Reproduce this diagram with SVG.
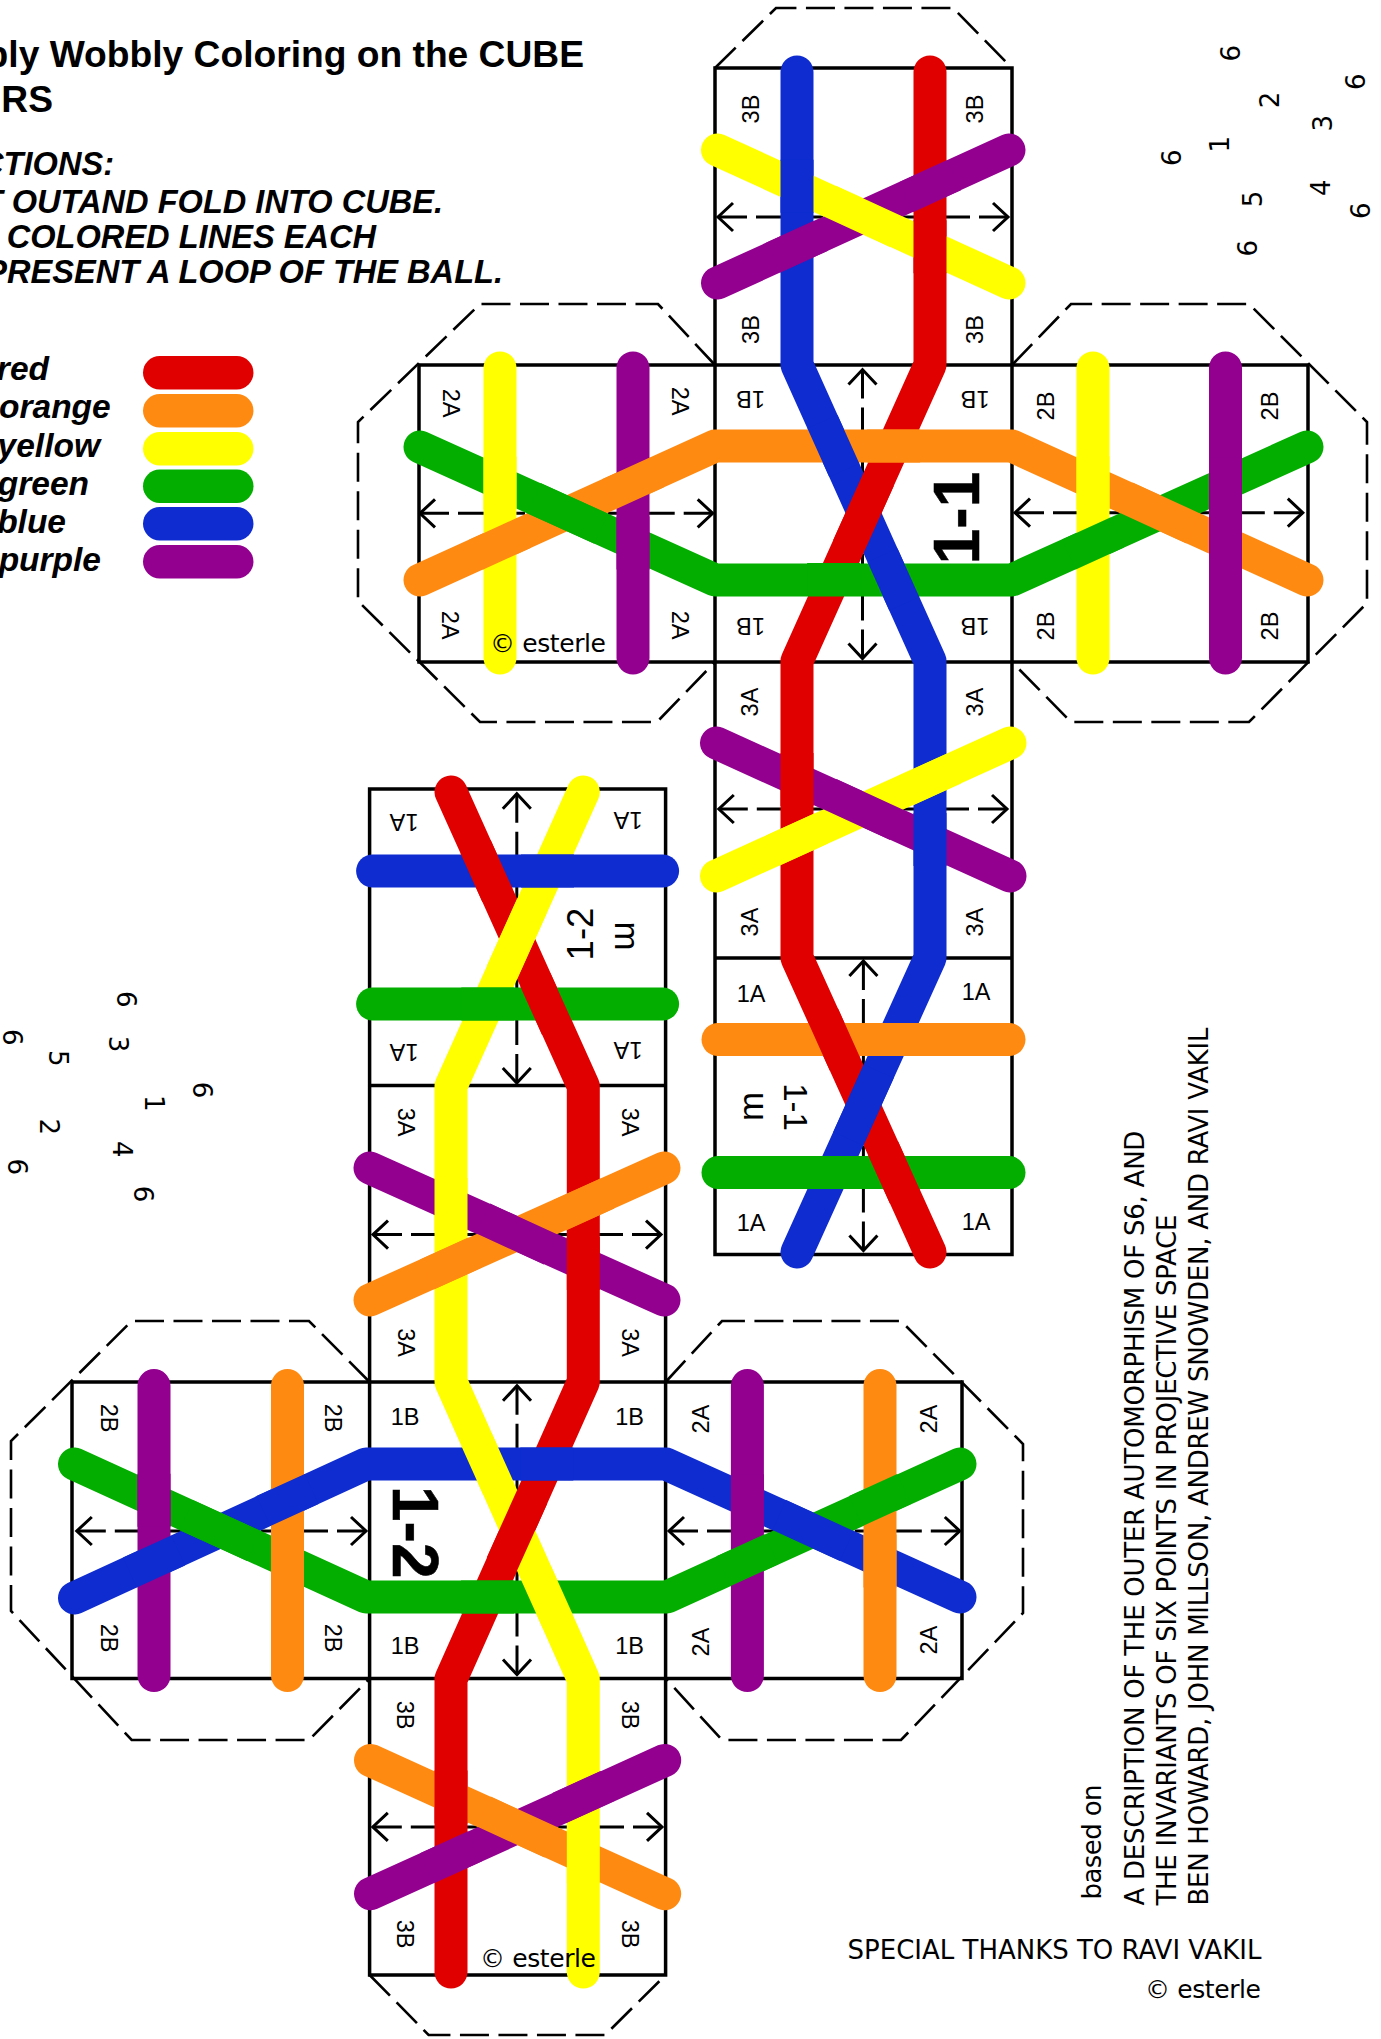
<svg xmlns="http://www.w3.org/2000/svg" width="1381" height="2039" viewBox="0 0 1381 2039">
<defs>
<marker id="head" markerUnits="userSpaceOnUse" markerWidth="40" markerHeight="40" refX="0" refY="0" viewBox="-20 -20 40 40" orient="auto-start-reverse" overflow="visible"><path d="M-15 -14L0 0L-15 14" fill="none" stroke="#000" stroke-width="3"/></marker>
</defs>
<style>
text{fill:#000}
.sq{fill:none;stroke:#000;stroke-width:3.5}
.dash{fill:none;stroke:#000;stroke-width:2.6;stroke-dasharray:29 9.5}
.ar{fill:none;stroke:#000;stroke-width:3;stroke-dasharray:29 9;marker-start:url(#head)}
.s{fill:none;stroke-width:33;stroke-linecap:round;stroke-linejoin:round}
.o{fill:none;stroke-width:33;stroke-linecap:butt}
.red{stroke:#E00000}.orange{stroke:#FF8A12}.yellow{stroke:#FFFF00}.green{stroke:#03AE00}.blue{stroke:#0E2CCF}.purple{stroke:#930090}
.lb{font:23.5px "Liberation Sans",Arial,sans-serif;text-anchor:middle;dominant-baseline:central}
.big{font:bold 64px "Liberation Sans",Arial,sans-serif;stroke:#000;stroke-width:.6}
.mid{font:35px "Liberation Sans",Arial,sans-serif;text-anchor:middle}
.title{font:bold 37.2px "Liberation Sans",Arial,sans-serif;text-anchor:end}
.ins{font:italic bold 32.6px "Liberation Sans",Arial,sans-serif;text-anchor:end}
.leg{font:italic bold 33.5px "Liberation Sans",Arial,sans-serif;text-anchor:end}
.dj{font:25px "DejaVu Sans",sans-serif}
.dg{font:26px "DejaVu Sans",sans-serif;text-anchor:middle}
</style>

<g id="heading">
<text class="title" x="584" y="66.5">bly Wobbly Coloring on the CUBE</text>
<text class="title" x="53" y="111.5">RS</text>
<text class="ins" x="114" y="175">CTIONS:</text>
<text class="ins" x="443" y="212.7">T OUTAND FOLD INTO CUBE.</text>
<text class="ins" x="376" y="248.3">COLORED LINES EACH</text>
<text class="ins" x="503" y="282.7">PRESENT A LOOP OF THE BALL.</text>
</g>

<g id="legend">
<text class="leg" x="49" y="379.6">red</text><rect x="143" y="356" width="110.5" height="33.4" rx="16.7" fill="#E00000"/>
<text class="leg" x="110.7" y="418">orange</text><rect x="143" y="394" width="110.5" height="33.4" rx="16.7" fill="#FF8A12"/>
<text class="leg" x="100" y="456.7">yellow</text><rect x="143" y="432" width="110.5" height="33.4" rx="16.7" fill="#FFFF00"/>
<text class="leg" x="89" y="495">green</text><rect x="143" y="469.5" width="110.5" height="33.4" rx="16.7" fill="#03AE00"/>
<text class="leg" x="66" y="533">blue</text><rect x="143" y="507" width="110.5" height="33.4" rx="16.7" fill="#0E2CCF"/>
<text class="leg" x="101" y="570.6">purple</text><rect x="143" y="545" width="110.5" height="33.4" rx="16.7" fill="#930090"/>
</g>

<g id="net-1">
<path class="dash" d="M715 68L776 8H953L1012 68"/>
<path class="dash" d="M1012 365L1071 304H1249L1367 422V603L1249 722H1071L1012 662"/>
<path class="dash" d="M715 365L658 304H480L358 422V601L480 722H657L715 662"/>
<path class="sq" d="M715 68H1012V1254.5H715ZM419 365H1308V662H419ZM715 365V662M1012 365V662M715 958H1012"/>
<path class="ar" d="M718 217H863"/><path class="ar" d="M1008 217H863"/>
<path class="ar" d="M862.5 369.6V514"/><path class="ar" d="M862.5 658.5V514"/>
<path class="ar" d="M420 513.3H566"/><path class="ar" d="M712.7 513.3H566"/>
<path class="ar" d="M1015 512.7H1159"/><path class="ar" d="M1302.8 512.7H1159"/>
<path class="ar" d="M718.8 809H863"/><path class="ar" d="M1007 809H863"/>
<path class="ar" d="M863.4 961V1106"/><path class="ar" d="M863.4 1250.6V1106"/>
<text class="big" text-anchor="middle" transform="translate(979 518) rotate(-90)">1-1</text>
<text class="mid" transform="translate(784 1107) rotate(90)" style="font-size:33px">1-1</text>
<text class="mid" transform="translate(763 1106.5) rotate(-90)">m</text>
</g>

<g id="net-2">
<path class="dash" d="M369.6 1382L309 1321H131.7L11 1441V1611L131.7 1740H309L369.6 1678.5"/>
<path class="dash" d="M665.6 1382L722 1321H901L1023 1444V1613L901 1740H722L665.6 1678.5"/>
<path class="dash" d="M369.6 1975L428.6 2035H605L665.6 1975"/>
<path class="sq" d="M369.6 789H665.6V1975H369.6ZM72 1382H962V1678.5H72ZM369.6 1382V1678.5M665.6 1382V1678.5M369.6 1085.5H665.6"/>
<path class="ar" d="M516.8 793.8V938"/><path class="ar" d="M516.8 1083V938"/>
<path class="ar" d="M373 1234.6H517"/><path class="ar" d="M661 1234.6H517"/>
<path class="ar" d="M517 1385.8V1530"/><path class="ar" d="M517 1674.6V1530"/>
<path class="ar" d="M76.8 1531H221"/><path class="ar" d="M366 1531H221"/>
<path class="ar" d="M669 1531H814"/><path class="ar" d="M959.8 1531H814"/>
<path class="ar" d="M372.8 1826.9H517"/><path class="ar" d="M662 1826.9H517"/>
<text class="big" transform="translate(393 1486) rotate(90)">1-2</text>
<text class="mid" transform="translate(593 934) rotate(-90)" style="font-size:36.5px">1-2</text>
<text class="mid" transform="translate(615 936) rotate(90)">m</text>
</g>

<g id="strands">
<path class="s red" d="M930 72V365L797 661V958L930 1252"/>
<path class="s blue" d="M797 72V365L930 661V958L797 1252"/>
<path class="s yellow" d="M717.5 150L1009 283"/>
<path class="s purple" d="M1009 150L717.5 283"/>
<path class="s orange" d="M420 580L715 446H1012L1307 580"/>
<path class="s green" d="M420 447L715 580H1012L1307 447"/>
<path class="s yellow" d="M500 368V658M1093 368V658"/>
<path class="s purple" d="M633 368V658M1225.5 368V658"/>
<path class="s purple" d="M716.5 743L1010 876"/>
<path class="s yellow" d="M1010 743L716.5 876"/>
<path class="s orange" d="M718 1039.5H1009"/>
<path class="s green" d="M718 1172.6H1009"/>

<path class="s red" d="M451 792L583.3 1086V1382L451 1679V1972"/>
<path class="s yellow" d="M583.3 792L451 1086V1382L583.3 1679V1972"/>
<path class="s blue" d="M372.6 871H662.6"/>
<path class="s green" d="M372.6 1004H662.6"/>
<path class="s purple" d="M370 1168L664 1300"/>
<path class="s orange" d="M664 1168L370 1300"/>
<path class="s blue" d="M74.5 1598L366 1464H666L960 1597"/>
<path class="s green" d="M74.5 1464L366 1597H667L960 1464"/>
<path class="s purple" d="M154 1385.6V1675.5M747.4 1385.6V1675.5"/>
<path class="s orange" d="M287.5 1385.6V1675.5M880 1385.6V1675.5"/>
<path class="s orange" d="M370.5 1760.4L664.7 1893.8"/>
<path class="s purple" d="M664.7 1760.4L370.5 1893.8"/>

<path class="o red" d="M930 220.2L930 273.2M878.7 479.3L848.3 546.7M797 753L797 806M823 1015.3L844.8 1063.7M883.1 1148.4L904.9 1196.8M475.6 846.8L497.4 895.2M535.3 979.8L557.1 1028.2M583.3 1237.1L583.3 1290.1M532.2 1496.8L501.8 1564.2M451 1770.4L451 1823.4"/>
<path class="o blue" d="M797 159.8L797 212.8M822.5 421.8L844.3 470.2M882.5 555.3L904.3 603.7M930 813L930 866M878.7 1071.3L848.3 1138.7M521 871L574 871M520.3 1464L573.3 1464M129.9 1572.5L178.1 1550.5M263.4 1511.1L311.6 1489.1M779.3 1515.1L846.7 1545.9"/>
<path class="o yellow" d="M829.6 201.1L896.9 231.9M500 456.5L500 509.5M1093 456.3L1093 509.3M772.9 850.5L821.1 828.5M905.9 790.5L954.1 768.5M532.2 905.3L501.8 972.7M451 1177.9L451 1230.9M476.6 1439.8L498.4 1488.2M535.9 1572.8L557.7 1621.2M583.3 1830.4L583.3 1883.4"/>
<path class="o purple" d="M772.9 257.7L821.1 235.7M905.9 197.3L954.1 175.3M633 516.5L633 569.5M1225.5 457.2L1225.5 510.2M1225.5 516.5L1225.5 569.5M829.6 794.1L896.9 824.9M483.3 1218.6L550.7 1249.4M154 1473.8L154 1526.8M747.4 1474.3L747.4 1527.3M426.9 1868.3L475.1 1846.3M559.2 1807.9L607.4 1785.9"/>
<path class="o orange" d="M867.1 446L920.1 446M475.9 554.7L524.1 532.7M608.9 494.2L657.1 472.2M1125.8 497.6L1193.2 528.4M866.6 1039.5L919.6 1039.5M426.9 1274.6L475.1 1252.6M559.2 1215.4L607.4 1193.4M287.5 1534.7L287.5 1587.7M880 1534.5L880 1587.5M483.9 1811.6L551.3 1842.4"/>
<path class="o green" d="M807.1 579.5L860.1 579.5M533.8 497.9L601.2 528.7M1068.9 554.5L1117.1 532.5M806.5 1172.6L859.5 1172.6M461.3 1004L514.3 1004M461 1597L514 1597M186.5 1515.3L253.9 1546.1M723.3 1571.2L771.5 1549.2M855.9 1511L904.1 1489"/>
</g>

<g id="face-labels-1">
<text class="lb" transform="translate(750.5 109) rotate(-90)">3B</text>
<text class="lb" transform="translate(975 109) rotate(-90)">3B</text>
<text class="lb" transform="translate(750.5 329.5) rotate(-90)">3B</text>
<text class="lb" transform="translate(975 329.5) rotate(-90)">3B</text>
<text class="lb" transform="translate(750.5 399) rotate(180)">1B</text>
<text class="lb" transform="translate(975 399) rotate(180)">1B</text>
<text class="lb" transform="translate(750.5 626) rotate(180)">1B</text>
<text class="lb" transform="translate(975 626) rotate(180)">1B</text>
<text class="lb" transform="translate(1046 406) rotate(-90)">2B</text>
<text class="lb" transform="translate(1270 406) rotate(-90)">2B</text>
<text class="lb" transform="translate(1046 626) rotate(-90)">2B</text>
<text class="lb" transform="translate(1270 626) rotate(-90)">2B</text>
<text class="lb" transform="translate(451 403) rotate(90)">2A</text>
<text class="lb" transform="translate(679.5 401) rotate(90)">2A</text>
<text class="lb" transform="translate(450 625) rotate(90)">2A</text>
<text class="lb" transform="translate(679.5 625) rotate(90)">2A</text>
<text class="lb" transform="translate(750 702) rotate(-90)">3A</text>
<text class="lb" transform="translate(974.5 702) rotate(-90)">3A</text>
<text class="lb" transform="translate(750 922) rotate(-90)">3A</text>
<text class="lb" transform="translate(974.5 922) rotate(-90)">3A</text>
<text class="lb" x="751" y="993.5">1A</text>
<text class="lb" x="976" y="992">1A</text>
<text class="lb" x="751" y="1223">1A</text>
<text class="lb" x="976" y="1222">1A</text>
</g>
<g id="face-labels-2">
<text class="lb" transform="translate(404 822) rotate(180)">1A</text>
<text class="lb" transform="translate(628 820) rotate(180)">1A</text>
<text class="lb" transform="translate(404 1052) rotate(180)">1A</text>
<text class="lb" transform="translate(628 1050) rotate(180)">1A</text>
<text class="lb" transform="translate(405.6 1122) rotate(90)">3A</text>
<text class="lb" transform="translate(630 1122) rotate(90)">3A</text>
<text class="lb" transform="translate(405.6 1342.5) rotate(90)">3A</text>
<text class="lb" transform="translate(630 1342.5) rotate(90)">3A</text>
<text class="lb" x="405" y="1417">1B</text>
<text class="lb" x="629.5" y="1417">1B</text>
<text class="lb" x="405" y="1646">1B</text>
<text class="lb" x="629.5" y="1646">1B</text>
<text class="lb" transform="translate(405 1715) rotate(90)">3B</text>
<text class="lb" transform="translate(629.5 1715) rotate(90)">3B</text>
<text class="lb" transform="translate(405 1934) rotate(90)">3B</text>
<text class="lb" transform="translate(629.5 1934) rotate(90)">3B</text>
<text class="lb" transform="translate(108.5 1418) rotate(90)">2B</text>
<text class="lb" transform="translate(332.6 1418) rotate(90)">2B</text>
<text class="lb" transform="translate(108.5 1638) rotate(90)">2B</text>
<text class="lb" transform="translate(332.6 1638) rotate(90)">2B</text>
<text class="lb" transform="translate(700.5 1419) rotate(-90)">2A</text>
<text class="lb" transform="translate(929 1419) rotate(-90)">2A</text>
<text class="lb" transform="translate(700.5 1642) rotate(-90)">2A</text>
<text class="lb" transform="translate(929 1640) rotate(-90)">2A</text>
</g>

<g id="digits-top">
<text class="dg" transform="translate(1239.5 53.3) rotate(-90)">6</text>
<text class="dg" transform="translate(1365.2 81.7) rotate(-90)">6</text>
<text class="dg" transform="translate(1278.5 100) rotate(-90)">2</text>
<text class="dg" transform="translate(1331.8 123.3) rotate(-90)">3</text>
<text class="dg" transform="translate(1228.8 144.3) rotate(-90)">1</text>
<text class="dg" transform="translate(1180.5 157.7) rotate(-90)">6</text>
<text class="dg" transform="translate(1329.5 187.7) rotate(-90)">4</text>
<text class="dg" transform="translate(1262.2 199) rotate(-90)">5</text>
<text class="dg" transform="translate(1369.5 210.7) rotate(-90)">6</text>
<text class="dg" transform="translate(1256.8 248.3) rotate(-90)">6</text>
</g>
<g id="digits-left">
<text class="dg" transform="translate(116.5 999.3) rotate(90)">6</text>
<text class="dg" transform="translate(3.2 1037.3) rotate(90)">6</text>
<text class="dg" transform="translate(108.8 1044) rotate(90)">3</text>
<text class="dg" transform="translate(48.8 1058.3) rotate(90)">5</text>
<text class="dg" transform="translate(193.2 1090) rotate(90)">6</text>
<text class="dg" transform="translate(144.5 1103.3) rotate(90)">1</text>
<text class="dg" transform="translate(39.8 1126.7) rotate(90)">2</text>
<text class="dg" transform="translate(113.2 1149.3) rotate(90)">4</text>
<text class="dg" transform="translate(8.2 1166.7) rotate(90)">6</text>
<text class="dg" transform="translate(133.8 1194) rotate(90)">6</text>
</g>

<g id="credits">
<text class="dj" x="490" y="651.7" textLength="116">© esterle</text>
<text class="dj" x="480" y="1966.8" textLength="116">© esterle</text>
<text class="dj" x="1145" y="1997.5" textLength="116">© esterle</text>
<text class="dj" x="847.6" y="1958.8" textLength="413.8" style="font-size:26px">SPECIAL THANKS TO RAVI VAKIL</text>
<text class="dj" transform="translate(1101.4 1899.4) rotate(-90)" textLength="115" style="font-size:26px">based on</text>
<text class="dj" transform="translate(1143.7 1905.6) rotate(-90)" textLength="775" style="font-size:26px">A DESCRIPTION OF THE OUTER AUTOMORPHISM OF S6, AND</text>
<text class="dj" transform="translate(1175.9 1905.6) rotate(-90)" textLength="691" style="font-size:26px">THE INVARIANTS OF SIX POINTS IN PROJECTIVE SPACE</text>
<text class="dj" transform="translate(1208 1905.6) rotate(-90)" textLength="878" style="font-size:26px">BEN HOWARD, JOHN MILLSON, ANDREW SNOWDEN, AND RAVI VAKIL</text>
</g>
</svg>
